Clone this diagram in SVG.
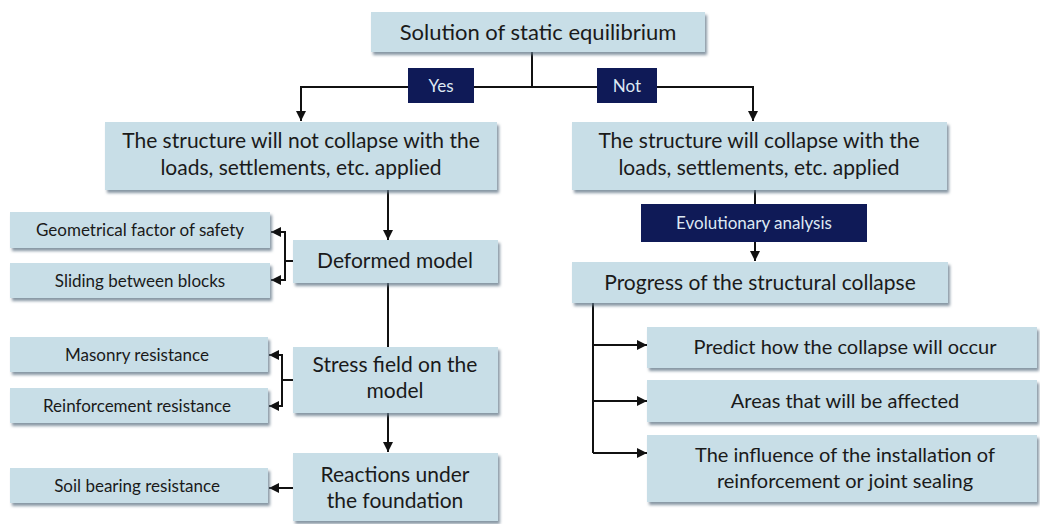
<svg xmlns="http://www.w3.org/2000/svg" width="1040" height="524" viewBox="0 0 1040 524">
<defs>
<filter id="sh" x="-10%" y="-20%" width="125%" height="160%">
<feDropShadow dx="2" dy="3" stdDeviation="1.5" flood-color="#5f7385" flood-opacity="0.75"/>
</filter>
<marker id="ah" viewBox="0 0 10 10" refX="10" refY="5" markerWidth="10" markerHeight="10" markerUnits="userSpaceOnUse" orient="auto">
<path d="M0,0 L10,5 L0,10 z" fill="#111"/>
</marker>
</defs>
<style>
.box{fill:#c8dee7;filter:url(#sh)}
.dk{fill:#0f1a57}
.t{font-family:Lato,"Open Sans",sans-serif;fill:#1a1a1a;text-anchor:middle}
.big{font-size:21px}
.sm{font-size:17px}
.w{font-family:Lato,"Open Sans",sans-serif;fill:#dde8f3;text-anchor:middle;font-size:17px}
.ln{fill:none;stroke:#111;stroke-width:2}
.ar{fill:none;stroke:#111;stroke-width:2;marker-end:url(#ah)}
</style>
<rect width="1040" height="524" fill="#fff"/>
<g id="connectors">
<path class="ln" d="M532,52 V87"/>
<path class="ar" d="M532,87 H301 V121"/>
<path class="ar" d="M532,87 H753 V121"/>
<path class="ln" d="M755,190 V204"/>
<path class="ar" d="M755,242 V261"/>
<path class="ln" d="M593,303 V453"/>
<path class="ar" d="M593,345 H647"/>
<path class="ar" d="M593,401 H647"/>
<path class="ar" d="M593,453 H647"/>
<path class="ar" d="M388,190 V240"/>
<path class="ln" d="M293,261 H285"/>
<path class="ar" d="M285,232 H271"/>
<path class="ar" d="M285,280 H271"/>
<path class="ln" d="M285,231 V281"/>
<path class="ln" d="M388,283 V347"/>
<path class="ln" d="M293,380 H282"/>
<path class="ln" d="M282,354 V407"/>
<path class="ar" d="M282,355 H269"/>
<path class="ar" d="M282,406 H269"/>
<path class="ar" d="M388,413 V452"/>
<path class="ar" d="M293,488 H269"/>
</g>
<g id="n-top"><rect class="box" x="371" y="12" width="334" height="40"/><text class="t" x="538" y="40" font-size="22">Solution of static equilibrium</text></g>
<g id="n-yes"><rect class="dk" x="408" y="68" width="66" height="35"/><text class="w" x="441" y="92">Yes</text></g>
<g id="n-not"><rect class="dk" x="597" y="68" width="60" height="35"/><text class="w" x="627" y="92">Not</text></g>
<g id="n-notcollapse"><rect class="box" x="105" y="122" width="392" height="68"/><text class="t big" x="301" y="148">The structure will not collapse with the</text><text class="t big" x="301" y="175">loads, settlements, etc. applied</text></g>
<g id="n-collapse"><rect class="box" x="572" y="122" width="375" height="68"/><text class="t big" x="759" y="148">The structure will collapse with the</text><text class="t big" x="759" y="175">loads, settlements, etc. applied</text></g>
<g id="n-evol"><rect class="dk" x="641" y="204" width="226" height="38"/><text class="w" x="754" y="229">Evolutionary analysis</text></g>
<g id="n-progress"><rect class="box" x="572" y="262" width="376" height="41"/><text class="t big" x="760" y="290">Progress of the structural collapse</text></g>
<g id="n-predict"><rect class="box" x="647" y="327" width="390" height="41"/><text class="t" font-size="20" x="845" y="354">Predict how the collapse will occur</text></g>
<g id="n-areas"><rect class="box" x="647" y="380" width="390" height="42"/><text class="t" font-size="20" x="845" y="408">Areas that will be affected</text></g>
<g id="n-influence"><rect class="box" x="647" y="435" width="390" height="67"/><text class="t" font-size="20" x="845" y="462">The influence of the installation of</text><text class="t" font-size="20" x="845" y="488">reinforcement or joint sealing</text></g>
<g id="n-deformed"><rect class="box" x="293" y="240" width="205" height="43"/><text class="t big" x="395" y="268">Deformed model</text></g>
<g id="n-geom"><rect class="box" x="10" y="212" width="260" height="36"/><text class="t sm" x="140" y="236">Geometrical factor of safety</text></g>
<g id="n-sliding"><rect class="box" x="10" y="263" width="260" height="35"/><text class="t sm" x="140" y="287">Sliding between blocks</text></g>
<g id="n-stress"><rect class="box" x="293" y="347" width="205" height="66"/><text class="t big" x="395" y="372">Stress field on the</text><text class="t big" x="395" y="398">model</text></g>
<g id="n-masonry"><rect class="box" x="10" y="337" width="258" height="35"/><text class="t sm" x="137" y="361">Masonry resistance</text></g>
<g id="n-reinf"><rect class="box" x="10" y="388" width="258" height="35"/><text class="t sm" x="137" y="412">Reinforcement resistance</text></g>
<g id="n-reactions"><rect class="box" x="293" y="453" width="205" height="68"/><text class="t big" x="395" y="482">Reactions under</text><text class="t big" x="395" y="508">the foundation</text></g>
<g id="n-soil"><rect class="box" x="10" y="468" width="258" height="35"/><text class="t sm" x="137" y="492">Soil bearing resistance</text></g>
</svg>
